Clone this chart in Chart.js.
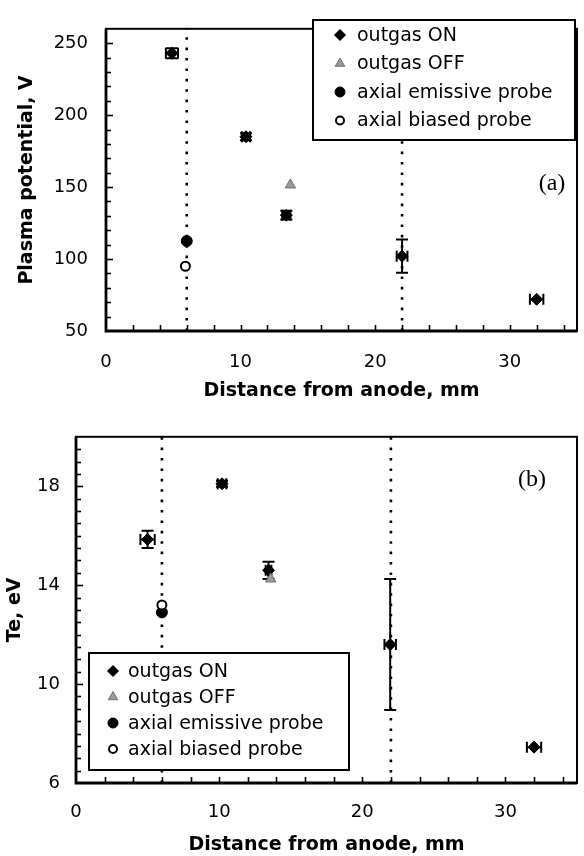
<!DOCTYPE html>
<html><head><meta charset="utf-8">
<script src="https://cdn.jsdelivr.net/npm/chart.js@4/dist/chart.umd.min.js"></script>
<style>
html,body{margin:0;padding:0;background:#fff;width:584px;height:856px;overflow:hidden}
.wrap{position:absolute;left:0;width:584px}
canvas{display:block}
</style></head><body>
<div class="wrap" style="top:0;height:410px"><canvas id="ca" width="584" height="410"></canvas></div>
<div class="wrap" style="top:410px;height:446px"><canvas id="cb" width="584" height="446"></canvas></div>
<script>
// ---------- shared axis data ----------
const xTickLabels = [0, 10, 20, 30];
const xMinorTicks = [2, 4, 6, 8, 10, 12, 14, 16, 18, 20, 22, 24, 26, 28, 30, 32, 34];
const markerLines = [6, 22];               // dotted vertical reference lines (mm)
const seriesNames = ['outgas ON', 'outgas OFF', 'axial emissive probe', 'axial biased probe'];

// ---------- panel (a): plasma potential ----------
const potTickLabels = [50, 100, 150, 200, 250];
const potMinorStep = 10;
const onDistA  = [4.9, 10.4, 13.4, 22.0, 32.0];
const onPot    = [243, 185, 130.5, 102, 72];
const onPotYErr = [3.5, 2.5, 3, 11.5, 0];
const onPotXErr = [0.45, 0.3, 0.3, 0.4, 0.5];
const offDistA = [13.7];
const offPot   = [151.5];
const emiDistA = [6.0];
const emiPot   = [112.5];
const biaDistA = [5.9];
const biaPot   = [95];

// ---------- panel (b): electron temperature ----------
const teTickLabels = [6, 10, 14, 18];
const teMinorStep = 0.5;
const onDistB  = [5.0, 10.2, 13.45, 21.95, 32.0];
const onTe     = [15.85, 18.1, 14.6, 11.6, 7.45];
const onTeYErr = [0.35, 0.12, 0.35, 2.65, 0];
const onTeXErr = [0.5, 0.3, 0.2, 0.4, 0.5];
const offDistB = [13.6];
const offTe    = [14.25];
const emiDistB = [6.0];
const emiTe    = [12.9];
const biaDistB = [6.0];
const biaTe    = [13.2];

const FONT = 'DejaVu Sans';

function pts(xs, ys, xe, ye) {
  return xs.map((x, i) => ({x: x, y: ys[i], xErr: xe ? xe[i] : 0, yErr: ye ? ye[i] : 0}));
}

function makeChart(id, c) {
  const styles = [
    {pointStyle: 'rectRot', radius: 6, bg: '#000', border: '#000', bw: 1},
    {pointStyle: 'triangle', radius: 6, bg: '#9a9a9a', border: '#707070', bw: 1},
    {pointStyle: 'circle', radius: 5.5, bg: '#000', border: '#000', bw: 1},
    {pointStyle: 'circle', radius: 4.5, bg: '#fff', border: '#000', bw: 2}
  ];
  const datasets = [];
  markerLines.forEach(v => {
    datasets.push({label: '', data: [{x: v, y: c.yMin}, {x: v, y: c.yMax}], showLine: true,
      borderColor: '#000', borderWidth: 2.6, borderDash: [2.6, 7.8], pointRadius: 0, fill: false, order: 10});
  });
  c.series.forEach((d, i) => {
    const s = styles[i];
    datasets.push({label: seriesNames[i], data: d, pointStyle: s.pointStyle, pointRadius: s.radius,
      backgroundColor: s.bg, borderColor: s.border, borderWidth: s.bw, showLine: false, order: 4 - i, isSeries: true, styleIdx: i});
  });

  const deco = {
    id: 'deco' + id,
    beforeDatasetsDraw(chart) {
      const ctx = chart.ctx, a = chart.chartArea, xs = chart.scales.x, ys = chart.scales.y;
      ctx.save();
      ctx.strokeStyle = '#000';
      // inner tick marks
      ctx.lineWidth = 1.6;
      xMinorTicks.forEach(v => {
        const px = Math.round(xs.getPixelForValue(v)) + 0.5;
        ctx.beginPath(); ctx.moveTo(px, a.bottom); ctx.lineTo(px, a.bottom - 6); ctx.stroke();
      });
      for (let v = c.yMin + c.minor; v < c.yMax - 1e-9; v += c.minor) {
        const py = Math.round(ys.getPixelForValue(v)) + 0.5;
        const major = c.yLabels.some(t => Math.abs(t - v) < 1e-9);
        ctx.beginPath(); ctx.moveTo(a.left, py); ctx.lineTo(a.left + (major ? 7 : 5), py); ctx.stroke();
      }
      // frame
      ctx.lineWidth = 2;
      ctx.strokeRect(a.left, a.top, a.right - a.left, a.bottom - a.top);
      ctx.lineWidth = 2.8;
      ctx.beginPath(); ctx.moveTo(a.left, a.top); ctx.lineTo(a.left, a.bottom); ctx.lineTo(a.right, a.bottom); ctx.stroke();
      // error bars
      ctx.lineWidth = 2;
      chart.data.datasets.forEach(ds => {
        if (!ds.isSeries) return;
        ds.data.forEach(p => {
          const px = xs.getPixelForValue(p.x), py = ys.getPixelForValue(p.y);
          if (p.yErr > 0) {
            const y1 = ys.getPixelForValue(p.y + p.yErr), y2 = ys.getPixelForValue(p.y - p.yErr);
            ctx.beginPath();
            ctx.moveTo(px, y1); ctx.lineTo(px, y2);
            ctx.moveTo(px - 6, y1); ctx.lineTo(px + 6, y1);
            ctx.moveTo(px - 6, y2); ctx.lineTo(px + 6, y2);
            ctx.stroke();
          }
          if (p.xErr > 0) {
            const x1 = xs.getPixelForValue(p.x - p.xErr), x2 = xs.getPixelForValue(p.x + p.xErr);
            ctx.beginPath();
            ctx.moveTo(x1, py); ctx.lineTo(x2, py);
            ctx.moveTo(x1, py - 5.5); ctx.lineTo(x1, py + 5.5);
            ctx.moveTo(x2, py - 5.5); ctx.lineTo(x2, py + 5.5);
            ctx.stroke();
          }
        });
      });
      ctx.restore();
    },
    afterDraw(chart) {
      const ctx = chart.ctx;
      ctx.save();
      // legend box
      const L = c.legend;
      ctx.fillStyle = '#fff';
      ctx.fillRect(L.x, L.y, L.w, L.h);
      ctx.strokeStyle = '#000'; ctx.lineWidth = 2;
      ctx.strokeRect(L.x, L.y, L.w, L.h);
      chart.data.datasets.filter(d => d.isSeries).forEach((d, i) => {
        const yy = L.y + L.first + i * L.step;
        const s = styles[d.styleIdx];
        ctx.fillStyle = s.bg; ctx.strokeStyle = s.border; ctx.lineWidth = s.bw;
        Chart.helpers.drawPoint(ctx, {pointStyle: s.pointStyle, radius: s.radius - 0.5, borderWidth: s.bw}, L.x + L.mx, yy);
        ctx.fillStyle = '#000';
        ctx.font = L.font + 'px "' + FONT + '"';
        ctx.textBaseline = 'middle'; ctx.textAlign = 'left';
        ctx.fillText(d.label, L.x + L.tx, yy + 1);
      });
      // panel label
      ctx.fillStyle = '#000';
      ctx.font = '24px "Liberation Serif"';
      ctx.textAlign = 'center'; ctx.textBaseline = 'middle';
      ctx.fillText(c.panel.text, c.panel.x, c.panel.y);
      ctx.restore();
    }
  };

  return new Chart(document.getElementById(id), {
    type: 'scatter',
    data: {datasets: datasets},
    options: {
      responsive: false, animation: false, events: [], devicePixelRatio: 1,
      layout: {padding: {left: 0, top: c.padTop, right: c.padRight, bottom: 0}},
      plugins: {legend: {display: false}, tooltip: {enabled: false}},
      scales: {
        x: {
          type: 'linear', min: 0, max: 35, position: 'bottom',
          afterBuildTicks: ax => { ax.ticks = xTickLabels.map(v => ({value: v})); },
          afterFit: ax => { ax.height = c.xAxisH; },
          grid: {display: false, drawTicks: false}, border: {display: false},
          ticks: {color: '#000', font: {family: FONT, size: 18}, padding: c.xTickPad, maxRotation: 0, autoSkip: false,
                  callback: v => String(v)},
          title: {display: true, text: 'Distance from anode, mm', color: '#000',
                  font: {family: FONT, size: 19, weight: 'bold'}, padding: {top: 0, bottom: c.xTitlePad}}
        },
        y: {
          type: 'linear', min: c.yMin, max: c.yMax,
          afterBuildTicks: ax => { ax.ticks = c.yLabels.map(v => ({value: v})); },
          afterFit: ax => { ax.width = c.yAxisW; },
          grid: {display: false, drawTicks: false}, border: {display: false},
          ticks: {color: '#000', font: {family: FONT, size: 18}, padding: c.yTickPad, autoSkip: false,
                  callback: v => String(v)},
          title: {display: true, text: c.yTitle, color: '#000',
                  font: {family: FONT, size: 19, weight: 'bold'}, padding: {top: c.yTitlePad, bottom: 0}}
        }
      }
    },
    plugins: [deco]
  });
}

makeChart('ca', {
  yMin: 50, yMax: 260, yLabels: potTickLabels, minor: potMinorStep, yTitle: 'Plasma potential, V',
  padTop: 12, padRight: 3, xAxisH: 79, yAxisW: 106, xTickPad: 21, yTickPad: 18, xTitlePad: 8, yTitlePad: 16,
  series: [pts(onDistA, onPot, onPotXErr, onPotYErr), pts(offDistA, offPot), pts(emiDistA, emiPot), pts(biaDistA, biaPot)],
  legend: {x: 313, y: 20, w: 262, h: 120, first: 15, step: 28.5, mx: 27, tx: 44, font: 19},
  panel: {text: '(a)', x: 552, y: 184}
});

makeChart('cb', {
  yMin: 6, yMax: 20, yLabels: teTickLabels, minor: teMinorStep, yTitle: 'Te, eV',
  padTop: 22, padRight: 7, xAxisH: 73, yAxisW: 76, xTickPad: 19, yTickPad: 16, xTitlePad: 0, yTitlePad: 4,
  series: [pts(onDistB, onTe, onTeXErr, onTeYErr), pts(offDistB, offTe), pts(emiDistB, emiTe), pts(biaDistB, biaTe)],
  legend: {x: 89, y: 243, w: 260, h: 117, first: 18, step: 26, mx: 24, tx: 39, font: 19},
  panel: {text: '(b)', x: 532, y: 70}
});
</script>
</body></html>
